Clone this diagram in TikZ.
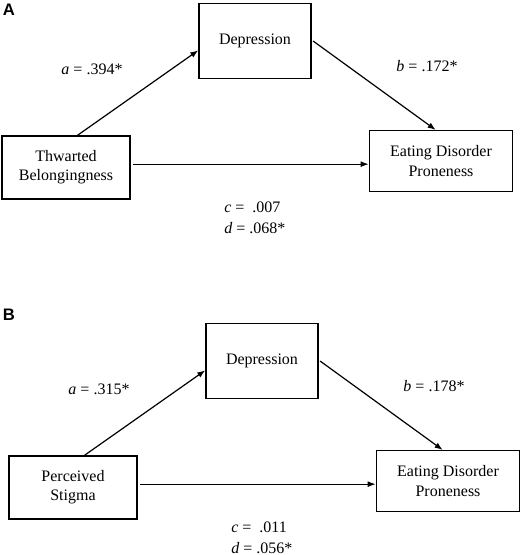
\documentclass[tikz,border=0pt]{standalone}
\usepackage{fontspec}
\setmainfont{Liberation Serif}
\newfontfamily\panelfont{Liberation Sans}
\usepackage{tikz}
\usetikzlibrary{arrows.meta}
\tikzset{var/.style={draw=black, line width=1.1pt, inner sep=2pt, align=center, font=\fontsize{12}{14.5}\selectfont},
effect/.style={-{Latex[length=6pt,width=4.5pt]}, line width=0.9pt},
%coefficients sit in plain text
coef/.style={inner sep=0pt, font=\fontsize{12}{15.5}\selectfont},
panel/.style={inner sep=0pt, font=\panelfont\bfseries\fontsize{12.5}{12.5}\selectfont}}

\begin{document}
\begin{tikzpicture}[x=0.75pt,y=-0.75pt]
\useasboundingbox (0,0) rectangle (529,555);

\foreach \p/\dx/\dy/\ly/\src/\a/\b/\c/\d in {A/0/0/10/{Thwarted\\Belongingness}/.394/.172/.007/.068,
                                           B/7/320/315/{Perceived\\Stigma}/.315/.178/.011/.056}{
  \node[panel] (lbl\p) at (9,\ly) {\p};
  \begin{scope}[shift={(\dx,\dy)}]
  % boxes
  \node[var, minimum width=84pt, minimum height=56.5pt] (dep\p) at (255,41) {Depression};
  \node[var, minimum width=96pt, minimum height=47pt] (src\p) at (66,167.5) {\src};
  \node[var, minimum width=107.5pt, minimum height=45.5pt] (out\p) at (441,161) {Eating Disorder\\Proneness};
  % paths
  \draw[effect] ([xshift=8.5pt]src\p.north) -- ([yshift=-7pt]dep\p.west);
  \draw[effect] ([xshift=1pt]dep\p.east) -- ([xshift=-4pt]out\p.north);
  \draw[effect] ([xshift=2pt,yshift=2.5pt]src\p.east) -- ([yshift=2.5pt]src\p.east -| out\p.west);
  %labels
  \node[coef] (a\p) at (92,69) {\textit{a} = \a*};
  \node[coef] (b\p) at (427,66) {\textit{b} = \b*};
  \node[coef, anchor=west, align=left] (cd\p) at (224,217.5) {\textit{c} =\ \ \c\\\textit{d} = \d*};
  \end{scope}
}

\end{tikzpicture}
\end{document}
